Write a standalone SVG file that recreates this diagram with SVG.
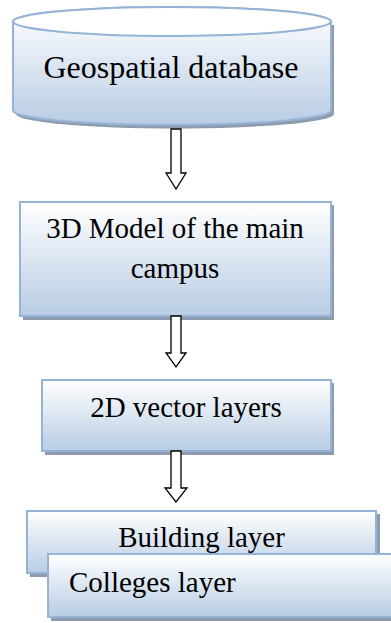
<svg xmlns="http://www.w3.org/2000/svg" width="391" height="623" viewBox="0 0 391 623">
<defs>
<linearGradient id="g" x1="0" y1="0" x2="0" y2="1">
<stop offset="0" stop-color="#ffffff"/>
<stop offset="1" stop-color="#b8cce4"/>
</linearGradient>
<style>
.box{fill:url(#g);stroke:#95b3d7;stroke-width:2}
.sh{fill:#8e9bad}
.arr{fill:#fff;stroke:#000;stroke-width:1.3;stroke-linejoin:miter}
</style>
</defs>
<rect width="391" height="623" fill="#fff"/>
<g font-family="Liberation Serif, Times New Roman, serif" font-size="29" fill="#000">
<g id="geodb">
<path class="sh" d="M16,25 V114 A159,14.5 0 0 0 334,114 V25 Z"/>
<path class="box" d="M13,21.5 V110.5 A159,14.5 0 0 0 331,110.5 V21.5 A159,14.5 0 0 0 13,21.5 Z"/>
<ellipse cx="172" cy="21.5" rx="159" ry="14.5" fill="#fff" stroke="#95b3d7" stroke-width="2"/>
<text x="171" y="78" text-anchor="middle" font-size="32">Geospatial database</text>
</g>
<g id="model3d">
<rect class="sh" x="23" y="205" width="311" height="115"/>
<rect class="box" x="20" y="202" width="311" height="114"/>
<text x="175" y="238" text-anchor="middle">3D Model of the main</text>
<text x="175" y="278" text-anchor="middle">campus</text>
</g>
<g id="vector2d">
<rect class="sh" x="45" y="383" width="289" height="72"/>
<rect class="box" x="42" y="380" width="289" height="71"/>
<text x="186" y="417" text-anchor="middle">2D vector layers</text>
</g>
<g id="building">
<rect class="sh" x="30" y="514" width="350" height="63"/>
<rect class="box" x="27" y="511" width="349" height="62"/>
<text x="201.5" y="547" text-anchor="middle">Building layer</text>
</g>
<g id="colleges">
<rect class="sh" x="51" y="557" width="345" height="64"/>
<rect class="box" x="48" y="554" width="350" height="63"/>
<text x="69" y="592">Colleges layer</text>
</g>
</g>
<g id="connectors">
<path class="arr" d="M171,129 H181 V173 H186 L176,189 L166,173 H171 Z"/>
<path class="arr" d="M171,316 H181 V353 H186 L176,367 L166,353 H171 Z"/>
<path class="arr" d="M171,451 H181 V488 H187 L176,502 L165,488 H171 Z"/>
</g>
</svg>
